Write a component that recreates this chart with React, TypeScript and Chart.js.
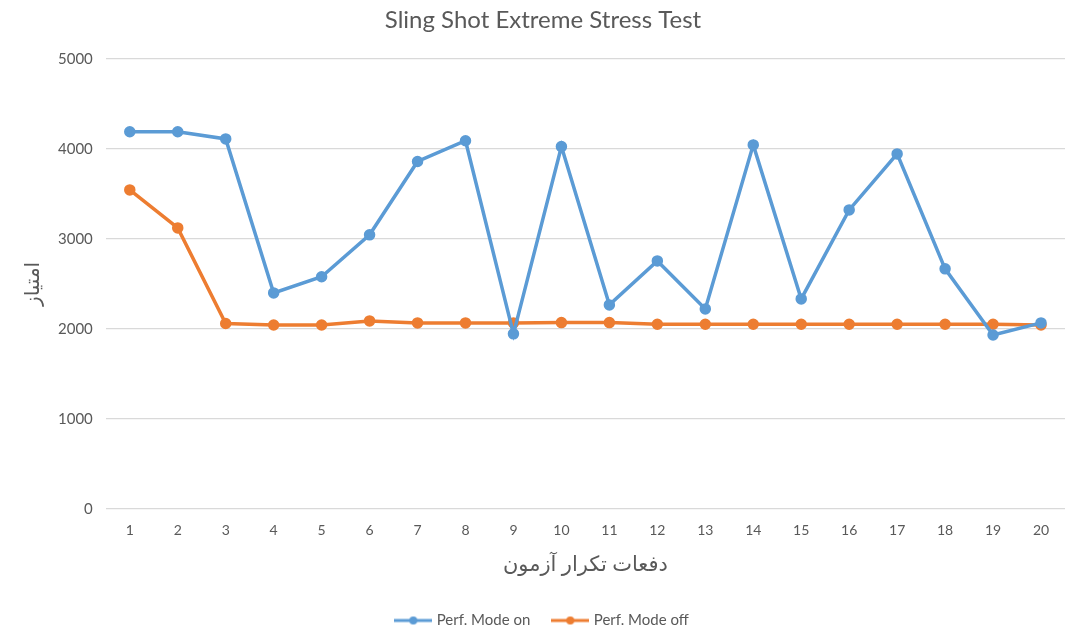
import React, { useEffect, useRef } from "react";
import { Chart, registerables } from "chart.js";

Chart.register(...registerables);

const categories = ["1","2","3","4","5","6","7","8","9","10","11","12","13","14","15","16","17","18","19","20"];
const perfOn = [4190, 4190, 4110, 2400, 2580, 3045, 3860, 4090, 1945, 4025, 2267, 2755, 2222, 4044, 2333, 3322, 3944, 2667, 1933, 2067];
const perfOff = [3544, 3122, 2060, 2044, 2044, 2089, 2067, 2067, 2067, 2070, 2070, 2052, 2052, 2052, 2052, 2052, 2052, 2052, 2052, 2044];
const seriesNames = ["Perf. Mode on", "Perf. Mode off"];
const colors = ["#5b9bd5", "#ed7d31"];
const titleText = "Sling Shot Extreme Stress Test";
const xTitle = "دفعات تکرار آزمون";
const yTitle = "امتیاز";

const FONT = "Lato, 'DejaVu Sans', sans-serif";

function legendIcon(color: string) {
  const c = document.createElement("canvas");
  c.width = 38;
  c.height = 10;
  const ctx = c.getContext("2d")!;
  ctx.strokeStyle = color;
  ctx.lineWidth = 3;
  ctx.beginPath();
  ctx.moveTo(0, 5);
  ctx.lineTo(38, 5);
  ctx.stroke();
  ctx.fillStyle = color;
  ctx.beginPath();
  ctx.arc(19, 5, 4, 0, Math.PI * 2);
  ctx.fill();
  return c;
}

export default function App() {
  const ref = useRef<HTMLCanvasElement>(null);
  useEffect(() => {
    document.body.style.margin = "0";
    const icons = colors.map(legendIcon);
    const chart = new Chart(ref.current!, {
      type: "line",
      data: {
        labels: categories,
        datasets: [perfOn, perfOff].map((d, i) => ({
          label: seriesNames[i],
          data: d,
          borderColor: colors[i],
          backgroundColor: colors[i],
          borderWidth: 3.5,
          pointRadius: 4,
          pointHoverRadius: 4,
          pointBackgroundColor: colors[i],
          pointBorderColor: colors[i],
          tension: 0,
        })),
      },
      options: {
        responsive: false,
        animation: false,
        layout: { padding: { left: 21, right: 15, top: 0, bottom: 0 } },
        plugins: {
          title: {
            display: true,
            text: titleText,
            color: "#595959",
            font: { family: FONT, size: 24, weight: "normal" },
            padding: { top: 6, bottom: 24 },
          },
          legend: {
            position: "bottom",
            labels: {
              color: "#595959",
              font: { family: FONT, size: 15 },
              usePointStyle: true,
              pointStyleWidth: 32,
              boxHeight: 10,
              padding: 24,
              generateLabels: (ch: any) =>
                ch.data.datasets.map((ds: any, i: number) => ({
                  text: ds.label,
                  pointStyle: icons[i],
                  fillStyle: colors[i],
                  strokeStyle: colors[i],
                  lineWidth: 0,
                  hidden: false,
                  datasetIndex: i,
                  fontColor: "#595959",
                })),
            },
          },
          tooltip: { enabled: false },
        },
        scales: {
          x: {
            offset: true,
            grid: { display: false, drawTicks: false },
            border: { display: false },
            ticks: { color: "#595959", font: { family: FONT, size: 14 }, padding: 13 },
            title: {
              display: true,
              text: xTitle,
              color: "#595959",
              font: { family: FONT, size: 21 },
              padding: { top: 0, bottom: 12 },
            },
          },
          y: {
            min: 0,
            max: 5000,
            ticks: {
              stepSize: 1000,
              color: "#595959",
              font: { family: FONT, size: 15 },
              padding: 13,
              callback: (v: any) => String(v),
            },
            grid: { color: "#d9d9d9", lineWidth: 1.2, drawTicks: false },
            border: { display: false },
            title: {
              display: true,
              text: yTitle,
              color: "#595959",
              font: { family: FONT, size: 20 },
              padding: { top: 0, bottom: 0 },
            },
          },
        },
      },
    });
    return () => chart.destroy();
  }, []);
  return (
    <div style={{ width: 1080, height: 638, background: "#fff" }}>
      <canvas ref={ref} width={1080} height={638} />
    </div>
  );
}
